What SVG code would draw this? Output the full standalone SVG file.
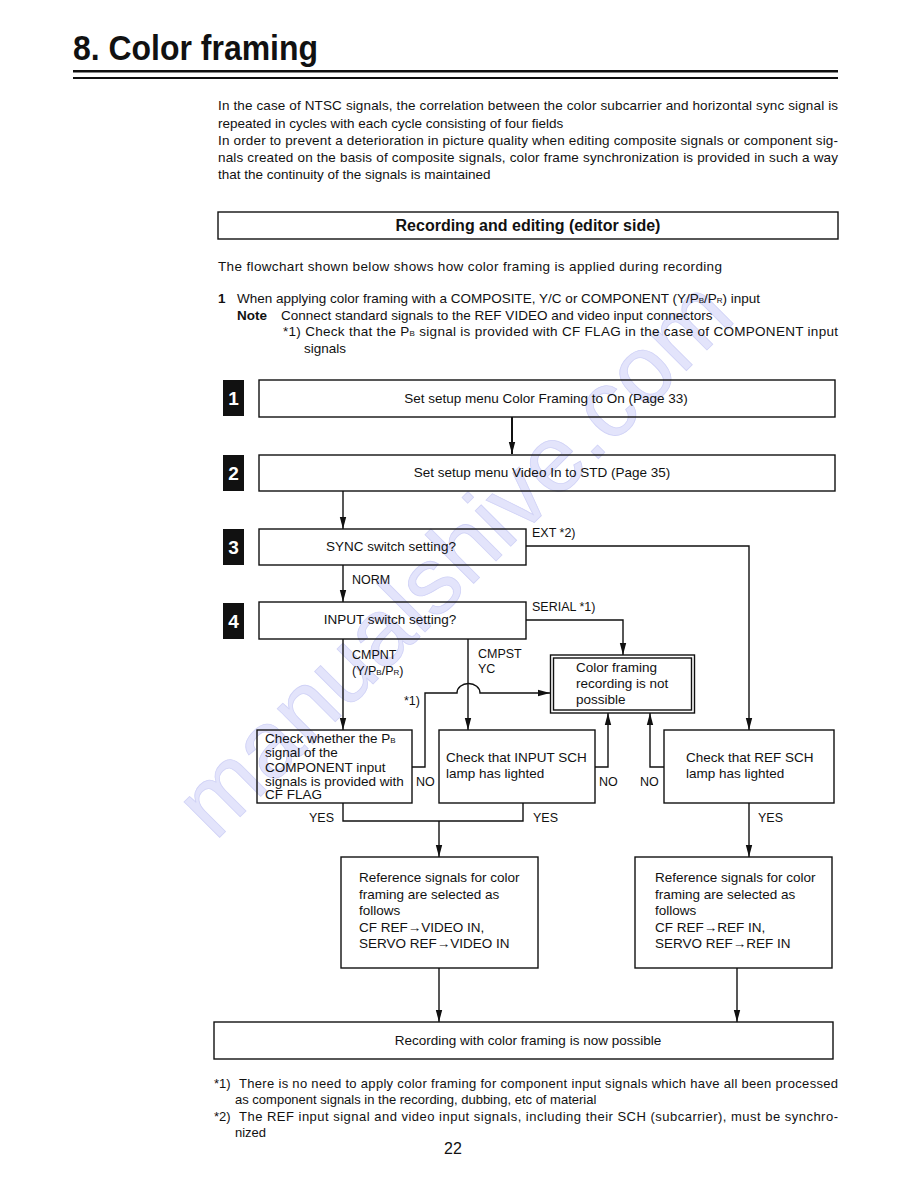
<svg xmlns="http://www.w3.org/2000/svg" width="918" height="1188" viewBox="0 0 918 1188">
<style>
text{font-family:"Liberation Sans",Arial,sans-serif;fill:#111}
.t{font-size:13.5px}
.f{font-size:13px}
.b{font-size:13.5px}
.l{font-size:12.5px}
.bold{font-weight:bold}
.box{fill:none;stroke:#111;stroke-width:1.4}
.con{fill:none;stroke:#111;stroke-width:1.4}
.sq{fill:#111}
.num{fill:#fff;font-weight:bold;font-size:19px;text-anchor:middle}
.sub{font-size:8px}
.wm{font-size:95px;fill:#e3e4fb;stroke:#d0d2f6;stroke-width:0.8}
</style>
<defs>
<marker id="ah" markerUnits="userSpaceOnUse" markerWidth="12" markerHeight="8" refX="12" refY="4" orient="auto">
<path d="M0,0.8 L12,4 L0,7.2 z" fill="#111"/>
</marker>
</defs>
<rect width="918" height="1188" fill="#fff"/>

<g id="watermark">
<text class="wm" transform="translate(215,842) rotate(-45)">manualshive.com</text>
</g>

<g id="header">
<text x="73" y="60" font-size="35" font-weight="bold" textLength="245" lengthAdjust="spacingAndGlyphs">8. Color framing</text>
<rect x="73" y="70" width="765" height="2.5" fill="#111"/>
<rect x="73" y="77" width="765" height="2" fill="#111"/>
</g>

<g id="intro" class="t">
<text x="218" y="110" textLength="620" lengthAdjust="spacing">In the case of NTSC signals, the correlation between the color subcarrier and horizontal sync signal is</text>
<text x="218" y="127.5">repeated in cycles with each cycle consisting of four fields</text>
<text x="218" y="144.5" textLength="620" lengthAdjust="spacing">In order to prevent a deterioration in picture quality when editing composite signals or component sig-</text>
<text x="218" y="162" textLength="620" lengthAdjust="spacing">nals created on the basis of composite signals, color frame synchronization is provided in such a way</text>
<text x="218" y="179">that the continuity of the signals is maintained</text>
</g>

<g id="section">
<rect class="box" x="218" y="212" width="620" height="27"/>
<text x="528" y="231" font-size="16" font-weight="bold" text-anchor="middle">Recording and editing (editor side)</text>
</g>

<g id="notes" class="t">
<text x="218" y="271" textLength="504" lengthAdjust="spacing">The flowchart shown below shows how color framing is applied during recording</text>
<text x="218" y="303" class="bold">1</text>
<text x="237" y="303">When applying color framing with a COMPOSITE, Y/C or COMPONENT (Y/P<tspan class="sub">B</tspan>/P<tspan class="sub">R</tspan>) input</text>
<text x="237" y="320" class="bold">Note</text>
<text x="281" y="320">Connect standard signals to the REF VIDEO and video input connectors</text>
<text x="283" y="336" textLength="555" lengthAdjust="spacing">*1)  Check that the P<tspan class="sub">B</tspan> signal is provided with CF FLAG in the case of COMPONENT input</text>
<text x="304" y="353">signals</text>
</g>

<g id="steps">
<rect class="sq" x="223" y="380" width="21" height="36"/><text class="num" x="233.5" y="405">1</text>
<rect class="sq" x="223" y="455" width="21" height="36"/><text class="num" x="233.5" y="480">2</text>
<rect class="sq" x="223" y="529" width="21" height="36"/><text class="num" x="233.5" y="554">3</text>
<rect class="sq" x="223" y="603" width="21" height="36"/><text class="num" x="233.5" y="628">4</text>
</g>

<g id="connectors" class="con">
<path d="M512,417 V454" marker-end="url(#ah)" stroke-width="2"/>
<path d="M343,491 V529" marker-end="url(#ah)"/>
<path d="M343,565 V602" marker-end="url(#ah)"/>
<path d="M526,546 H749 V730" marker-end="url(#ah)"/>
<path d="M526,620 H623 V655" marker-end="url(#ah)"/>
<path d="M343,639 V730" marker-end="url(#ah)"/>
<path d="M468,639 V730" marker-end="url(#ah)"/>
<path d="M412,767 H425 V693 H457 A11.5,9.5 0 0 1 480,693 H550" marker-end="url(#ah)"/>
<path d="M595,767 H608 V713" marker-end="url(#ah)"/>
<path d="M664,767 H650 V713" marker-end="url(#ah)"/>
<path d="M343,803 V821 H523 V803"/>
<path d="M439,821 V857" marker-end="url(#ah)"/>
<path d="M749,803 V857" marker-end="url(#ah)"/>
<path d="M439,968 V1022" marker-end="url(#ah)"/>
<path d="M737,968 V1022" marker-end="url(#ah)"/>
</g>

<g id="labels" class="l">
<text x="532" y="537">EXT *2)</text>
<text x="352" y="584">NORM</text>
<text x="532" y="611">SERIAL *1)</text>
<text x="352" y="659">CMPNT</text>
<text x="352" y="675">(Y/P<tspan class="sub">B</tspan>/P<tspan class="sub">R</tspan>)</text>
<text x="478" y="658">CMPST</text>
<text x="478" y="673">YC</text>
<text x="404" y="705">*1)</text>
<text x="416" y="786">NO</text>
<text x="599" y="786">NO</text>
<text x="640" y="786">NO</text>
<text x="309" y="822">YES</text>
<text x="533" y="822">YES</text>
<text x="758" y="822">YES</text>
</g>

<g id="step1">
<rect class="box" x="259" y="380" width="576" height="37"/>
<text class="t" x="546" y="403" text-anchor="middle">Set setup menu Color Framing to On  (Page 33)</text>
</g>
<g id="step2">
<rect class="box" x="259" y="455" width="576" height="36"/>
<text class="t" x="542" y="477" text-anchor="middle">Set setup menu Video In to STD  (Page 35)</text>
</g>
<g id="step3">
<rect class="box" x="259" y="529" width="267" height="36"/>
<text class="t" x="391" y="551" text-anchor="middle">SYNC switch setting?</text>
</g>
<g id="step4">
<rect class="box" x="259" y="602" width="267" height="37"/>
<text class="t" x="390" y="624" text-anchor="middle">INPUT switch setting?</text>
</g>

<g id="not-possible">
<rect class="box" x="550.5" y="655" width="144" height="58" stroke-width="1.6"/>
<rect class="box" x="553.5" y="658" width="138" height="52" stroke-width="1"/>
<text class="b" x="576" y="672">Color framing</text>
<text class="b" x="576" y="688">recording is not</text>
<text class="b" x="576" y="704">possible</text>
</g>

<g id="check-pb">
<rect class="box" x="257" y="730" width="155" height="73"/>
<text class="b" x="265" y="743">Check whether the P<tspan class="sub">B</tspan></text>
<text class="b" x="265" y="757">signal of the</text>
<text class="b" x="265" y="772">COMPONENT input</text>
<text class="b" x="265" y="786">signals is provided with</text>
<text class="b" x="265" y="799">CF FLAG</text>
</g>

<g id="check-input-sch">
<rect class="box" x="439" y="730" width="156" height="73"/>
<text class="b" x="446" y="762">Check that INPUT SCH</text>
<text class="b" x="446" y="778">lamp has lighted</text>
</g>

<g id="check-ref-sch">
<rect class="box" x="664" y="730" width="170" height="73"/>
<text class="b" x="686" y="762">Check that REF SCH</text>
<text class="b" x="686" y="778">lamp has lighted</text>
</g>

<g id="ref-video">
<rect class="box" x="341" y="857" width="197" height="111"/>
<text class="b" x="359" y="882">Reference signals for color</text>
<text class="b" x="359" y="898.5">framing are selected as</text>
<text class="b" x="359" y="915">follows</text>
<text class="b" x="359" y="931.5">CF REF→VIDEO IN,</text>
<text class="b" x="359" y="948">SERVO REF→VIDEO IN</text>
</g>

<g id="ref-ref">
<rect class="box" x="635" y="857" width="197" height="111"/>
<text class="b" x="655" y="882">Reference signals for color</text>
<text class="b" x="655" y="898.5">framing are selected as</text>
<text class="b" x="655" y="915">follows</text>
<text class="b" x="655" y="931.5">CF REF→REF IN,</text>
<text class="b" x="655" y="948">SERVO REF→REF IN</text>
</g>

<g id="final">
<rect class="box" x="214" y="1022" width="619" height="37"/>
<text class="t" x="528" y="1045" text-anchor="middle">Recording with color framing is now possible</text>
</g>

<g id="footnotes" class="f">
<text x="214" y="1088">*1)</text>
<text x="239" y="1088" textLength="599" lengthAdjust="spacing">There is no need to apply color framing for component input signals which have all been processed</text>
<text x="235" y="1104">as component signals in the recording, dubbing, etc  of material</text>
<text x="214" y="1121">*2)</text>
<text x="239" y="1121" textLength="599" lengthAdjust="spacing">The REF input signal and video input signals, including their SCH (subcarrier), must be synchro-</text>
<text x="235" y="1137">nized</text>
<text x="453" y="1154" font-size="16" text-anchor="middle">22</text>
</g>
</svg>
